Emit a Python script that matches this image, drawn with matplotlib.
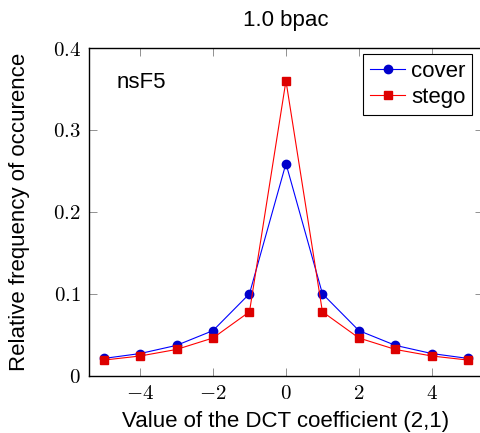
import numpy as np
import matplotlib

matplotlib.use('agg')
from matplotlib import pyplot as plt

plt.rcParams['font.family'] = ['Liberation Sans', 'DejaVu Sans']
plt.rcParams['mathtext.fontset'] = 'cm'

coef = [-5, -4, -3, -2, -1, 0, 1, 2, 3, 4, 5]
cover = [0.021, 0.027, 0.037, 0.055, 0.100, 0.259, 0.100, 0.055, 0.037, 0.027, 0.021]
stego = [0.019, 0.024, 0.032, 0.046, 0.078, 0.360, 0.078, 0.046, 0.032, 0.024, 0.019]
xticks = [-4, -2, 0, 2, 4]
yticks = [0, 0.1, 0.2, 0.3, 0.4]

fig = plt.figure(figsize=(4.81, 4.33), dpi=100)
ax = fig.add_axes([0.185, 0.1324, 0.819, 0.7567])

ax.plot(coef, cover, color='#0000ff', lw=0.8, marker='o', ms=6,
        mfc='#0000cc', mec='#0000cc', label='cover')
ax.plot(coef, stego, color='#ff0000', lw=0.8, marker='s', ms=6,
        mfc='#dd0000', mec='#dd0000', label='stego')

ax.set_xlim(-5.4, 5.4)
ax.set_ylim(0, 0.4)
ax.set_xticks(xticks)
ax.set_xticklabels(['$%s$' % ('-' + str(-t) if t < 0 else str(t)) for t in xticks])
ax.set_yticks(yticks)
ax.set_yticklabels(['$%g$' % t for t in yticks])
ax.tick_params(direction='in', top=True, right=True, length=6, width=0.6,
               color='#808080', labelsize=15, pad=6)
for s in ax.spines.values():
    s.set_linewidth(1.0)

ax.set_xlabel('Value of the DCT coefficient (2,1)', fontsize=16, labelpad=6)
ax.set_ylabel('Relative frequency of occurence', fontsize=16, labelpad=16)
ax.set_title('1.0 bpac', fontsize=16, pad=16)
ax.text(0.071, 0.896, 'nsF5', transform=ax.transAxes, fontsize=16,
        va='center', ha='left')

leg = ax.legend(loc='upper right', fontsize=16, fancybox=False,
                edgecolor='black', framealpha=1, handlelength=1.6,
                borderpad=0.3, labelspacing=0.25, handletextpad=0.25,
                borderaxespad=0, bbox_to_anchor=(0.972, 0.982))
leg.get_frame().set_linewidth(0.8)

plt.savefig('out.png')
